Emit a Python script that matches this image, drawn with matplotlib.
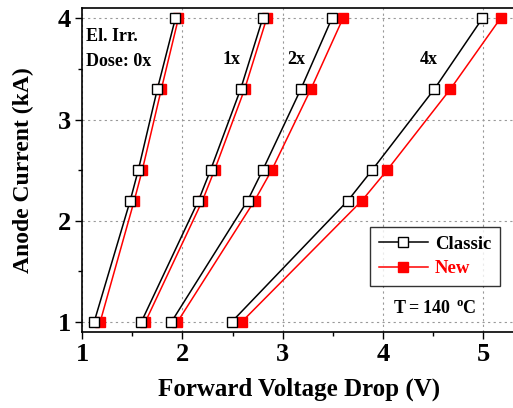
import numpy as np
import matplotlib
matplotlib.use('Agg')
import matplotlib.pyplot as plt
import matplotlib.ticker as ticker

plt.rcParams['font.family'] = ['Liberation Serif', 'DejaVu Serif']
plt.rcParams['font.weight'] = 'bold'

# anode current levels (kA)
current = [1, 2.2, 2.5, 3.3, 4]

# forward voltage drop (V) for each irradiation dose
classic = {
    '0x': [1.12, 1.48, 1.56, 1.75, 1.93],
    '1x': [1.59, 2.16, 2.28, 2.58, 2.80],
    '2x': [1.89, 2.65, 2.80, 3.18, 3.49],
    '4x': [2.49, 3.65, 3.89, 4.51, 4.99],
}
new = {
    '0x': [1.18, 1.52, 1.60, 1.79, 1.96],
    '1x': [1.63, 2.20, 2.32, 2.62, 2.84],
    '2x': [1.95, 2.72, 2.89, 3.28, 3.60],
    '4x': [2.59, 3.79, 4.04, 4.67, 5.17],
}

fig = plt.figure(figsize=(5.13, 4.08), dpi=100)
ax = fig.add_axes([0.160, 0.186, 0.845, 0.794])

for k in classic:
    ax.plot(new[k], current, color='red', lw=1.1, marker='s', ms=7.5,
            mfc='red', mec='red', mew=1.0, zorder=3,
            label='New' if k == '0x' else None)
for k in classic:
    ax.plot(classic[k], current, color='black', lw=1.1, marker='s', ms=7.5,
            mfc='white', mec='black', mew=1.0, zorder=4,
            label='Classic' if k == '0x' else None)

ax.set_xlim(1, 5.32)
ax.set_ylim(0.9, 4.1)
ax.xaxis.set_major_locator(ticker.MultipleLocator(1))
ax.xaxis.set_minor_locator(ticker.MultipleLocator(0.5))
ax.yaxis.set_major_locator(ticker.MultipleLocator(1))
ax.yaxis.set_minor_locator(ticker.MultipleLocator(0.5))
ax.tick_params(which='major', length=5, width=1, labelsize=19, pad=3)
ax.tick_params(which='minor', length=3, width=1)
ax.grid(True, which='major', ls=(0, (2, 3)), color='#999999', lw=0.8)
ax.set_axisbelow(True)
ax.spines['right'].set_visible(False)
for s in ['left', 'bottom', 'top']:
    ax.spines[s].set_linewidth(1.2)

ax.set_xlabel('Forward Voltage Drop (V)', fontsize=18, fontweight='bold',
              labelpad=8)
ax.set_ylabel('Anode Current (kA)', fontsize=17, fontweight='bold',
              labelpad=17)

ax.text(1.04, 3.82, 'El. Irr.', fontsize=13, fontweight='bold', va='center')
ax.text(1.04, 3.57, 'Dose: 0x', fontsize=13, fontweight='bold', va='center')
ax.text(2.40, 3.59, '1x', fontsize=13, fontweight='bold', va='center')
ax.text(3.04, 3.59, '2x', fontsize=13, fontweight='bold', va='center')
ax.text(4.37, 3.59, '4x', fontsize=13, fontweight='bold', va='center')
ax.text(4.51, 1.13, '$\\mathregular{T = 140\\ ^{o}C}$', fontsize=13,
        fontweight='bold', ha='center', va='center')

handles, labels = ax.get_legend_handles_labels()
leg = ax.legend(handles[::-1], labels[::-1], loc='upper left',
                bbox_to_anchor=(0.665, 0.324), borderaxespad=0, fontsize=13.5,
                frameon=True, fancybox=False, edgecolor='black',
                handlelength=2.6, borderpad=0.45, labelspacing=0.4,
                handletextpad=0.4)
leg.get_frame().set_linewidth(1.0)
leg.get_texts()[1].set_color('red')

fig.savefig('out.png', dpi=100)
